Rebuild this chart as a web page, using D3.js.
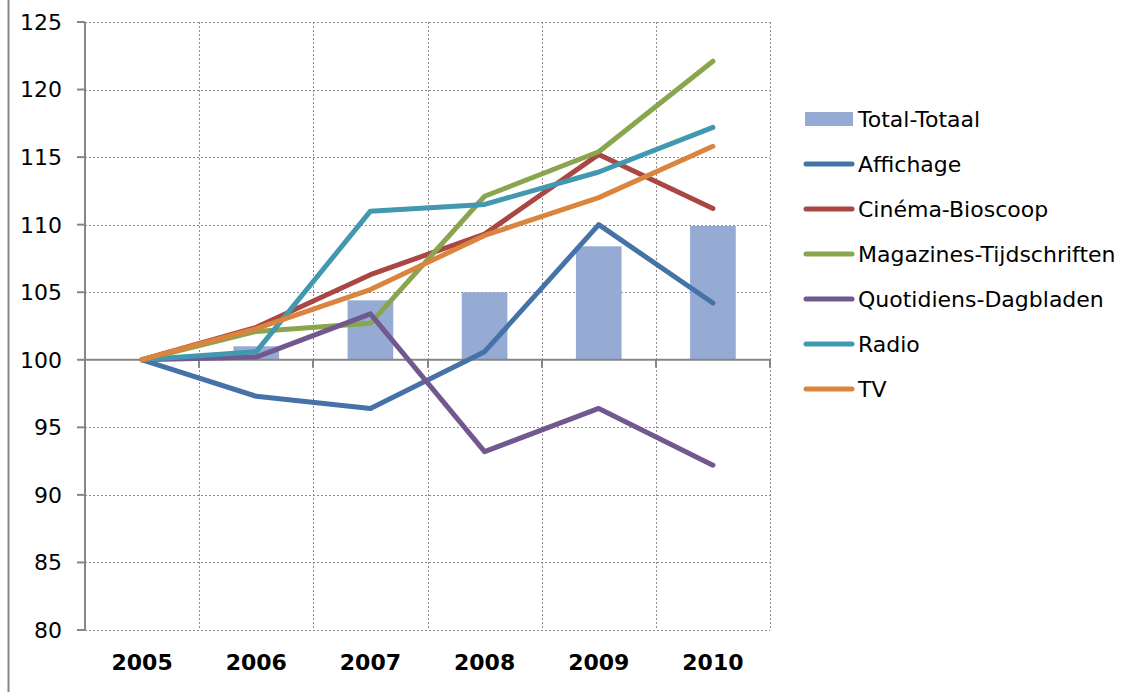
<!DOCTYPE html>
<html>
<head>
<meta charset="utf-8">
<script src="https://cdn.jsdelivr.net/npm/d3@7"></script>
<style>
  body { margin: 0; background: #fff; }
  svg { display: block; font-family: "DejaVu Sans", sans-serif; }
  .tick-label { font-size: 22px; fill: #000; }
  .year-label { font-size: 22px; font-weight: bold; fill: #000; }
  .legend-label { font-size: 22px; fill: #000; }
</style>
</head>
<body>
<svg width="1135" height="692"></svg>
<script>
const years = ["2005", "2006", "2007", "2008", "2009", "2010"]
const yTicks = [80, 85, 90, 95, 100, 105, 110, 115, 120, 125]

const total = [100, 101.0, 104.4, 105.0, 108.4, 109.9]
const affichage = [100, 97.3, 96.4, 100.6, 110.0, 104.2]
const cinema = [100, 102.4, 106.3, 109.3, 115.2, 111.2]
const magazines = [100, 102.1, 102.7, 112.1, 115.4, 122.1]
const quotidiens = [100, 100.2, 103.4, 93.2, 96.4, 92.2]
const radio = [100, 100.6, 111.0, 111.5, 113.9, 117.2]
const tv = [100, 102.3, 105.2, 109.2, 112.0, 115.8]

const lineSeries = [
    { name: "Affichage", values: affichage, color: "#4572A7" },
    { name: "Cinéma-Bioscoop", values: cinema, color: "#AA4643" },
    { name: "Magazines-Tijdschriften", values: magazines, color: "#89A54E" },
    { name: "Quotidiens-Dagbladen", values: quotidiens, color: "#71588F" },
    { name: "Radio", values: radio, color: "#4198AF" },
    { name: "TV", values: tv, color: "#DB843D" }
]
const barColor = "#95ABD3"

let svg = d3.select("svg")

// outer frame, only the left edge shows
svg.append("line")
    .attr("x1", 8.5).attr("x2", 8.5)
    .attr("y1", 0).attr("y2", 692)
    .attr("stroke", "#888").attr("stroke-width", 2)

let x = d3.scaleBand()
    .domain(years)
    .range([85, 770])

let y = d3.scaleLinear()
    .domain([80, 125])
    .range([630, 22])

let g = svg.append("g")

// horizontal grid
g.selectAll(".hgrid")
    .data(yTicks.filter(d => d != 100))
    .enter()
    .append("line")
        .attr("x1", 85).attr("x2", 770)
        .attr("y1", d => Math.round(y(d)) + 0.5)
        .attr("y2", d => Math.round(y(d)) + 0.5)
        .attr("stroke", "#8c8c8c")
        .attr("stroke-dasharray", "2,2")

// vertical grid at category boundaries
g.selectAll(".vgrid")
    .data(years)
    .enter()
    .append("line")
        .attr("x1", d => Math.round(x(d) + x.bandwidth()) + 0.5)
        .attr("x2", d => Math.round(x(d) + x.bandwidth()) + 0.5)
        .attr("y1", y(125)).attr("y2", y(80))
        .attr("stroke", "#8c8c8c")
        .attr("stroke-dasharray", "2,2")

// bars grow from the 100 line
let barW = x.bandwidth() / 2.5
g.selectAll(".bar")
    .data(years)
    .enter()
    .append("rect")
        .attr("x", d => x(d) + x.bandwidth()/2 - barW/2)
        .attr("width", barW)
        .attr("y", (d,i) => y(Math.max(total[i], 100)))
        .attr("height", (d,i) => Math.abs(y(total[i]) - y(100)))
        .attr("fill", barColor)

// category axis crossing at 100
g.append("line")
    .attr("x1", 85).attr("x2", 770)
    .attr("y1", y(100)).attr("y2", y(100))
    .attr("stroke", "#868686").attr("stroke-width", 2)
g.selectAll(".xtick")
    .data(years)
    .enter()
    .append("line")
        .attr("x1", d => Math.round(x(d) + x.bandwidth()))
        .attr("x2", d => Math.round(x(d) + x.bandwidth()))
        .attr("y1", y(100)).attr("y2", y(100) + 8)
        .attr("stroke", "#868686").attr("stroke-width", 2)

// value axis
g.append("line")
    .attr("x1", 85).attr("x2", 85)
    .attr("y1", y(125)).attr("y2", y(80))
    .attr("stroke", "#868686").attr("stroke-width", 2)
g.selectAll(".ytick")
    .data(yTicks)
    .enter()
    .append("line")
        .attr("x1", 77).attr("x2", 85)
        .attr("y1", d => y(d)).attr("y2", d => y(d))
        .attr("stroke", "#868686").attr("stroke-width", 2)
g.selectAll(".ylabel")
    .data(yTicks)
    .enter()
    .append("text")
        .attr("class", "tick-label")
        .attr("x", 62)
        .attr("y", d => y(d))
        .attr("dy", "0.36em")
        .attr("text-anchor", "end")
        .text(d => d)

g.selectAll(".xlabel")
    .data(years)
    .enter()
    .append("text")
        .attr("class", "year-label")
        .attr("x", d => x(d) + x.bandwidth()/2)
        .attr("y", 670)
        .attr("text-anchor", "middle")
        .text(d => d)

// lines
let line = d3.line()
    .x((d,i) => x(years[i]) + x.bandwidth()/2)
    .y(d => y(d))

g.selectAll(".series")
    .data(lineSeries)
    .enter()
    .append("path")
        .attr("d", d => line(d.values))
        .attr("fill", "none")
        .attr("stroke", d => d.color)
        .attr("stroke-width", 5)
        .attr("stroke-linejoin", "round")
        .attr("stroke-linecap", "round")

// legend
let legend = svg.append("g")
let legendY0 = 119, legendStep = 45
legend.append("rect")
    .attr("x", 805).attr("y", legendY0 - 7)
    .attr("width", 48).attr("height", 14)
    .attr("fill", barColor)
legend.append("text")
    .attr("class", "legend-label")
    .attr("x", 858).attr("y", legendY0)
    .attr("dy", "0.36em")
    .text("Total-Totaal")

legend.selectAll(".lg-line")
    .data(lineSeries)
    .enter()
    .append("line")
        .attr("x1", 806).attr("x2", 852)
        .attr("y1", (d,i) => legendY0 + (i+1)*legendStep)
        .attr("y2", (d,i) => legendY0 + (i+1)*legendStep)
        .attr("stroke", d => d.color)
        .attr("stroke-width", 5)
        .attr("stroke-linecap", "round")
legend.selectAll(".lg-text")
    .data(lineSeries)
    .enter()
    .append("text")
        .attr("class", "legend-label")
        .attr("x", 858)
        .attr("y", (d,i) => legendY0 + (i+1)*legendStep)
        .attr("dy", "0.36em")
        .text(d => d.name)
</script>
</body>
</html>
